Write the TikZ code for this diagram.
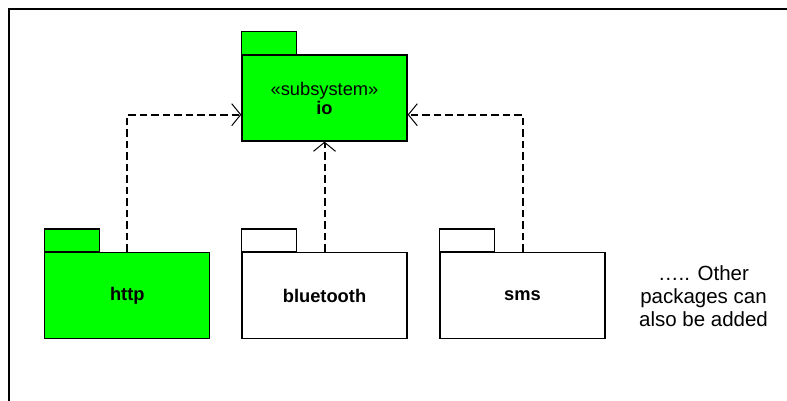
\documentclass[tikz,border=0pt]{standalone}
\usepackage{fontspec}
\setmainfont{Liberation Sans}
\usetikzlibrary{arrows.meta}
\definecolor{pkggreen}{HTML}{00FF00}
\tikzset{
  pkg/.style={draw=black, line width=1.3pt, minimum width=165pt, minimum height=86pt,
    inner sep=0pt, align=center, font=\fontsize{18.3}{19}\selectfont\bfseries},
  pkgtab/.style={draw=black, line width=1.3pt},
  dep/.style={draw=black, line width=2pt, dash pattern=on 7.5pt off 4pt,
    -{Straight Barb[length=9pt,width=22pt,line width=1pt]}},
  greenfill/.style={fill=pkggreen},
}
\begin{document}
\begin{tikzpicture}[x=1pt, y=-1pt]
  \useasboundingbox (0,0) rectangle (787,400);
  \begin{scope}
    \clip (0,0) rectangle (787,400);
    % open frame along top and left
    \draw[line width=2pt] (8.5,420) -- (8.5,8.5) -- (820,8.5);
  \end{scope}

  % package bodies
  \node[pkg, greenfill] (io) at (324.5,98)
    {{\mdseries «subsystem»}\\io};
  \node[pkg, greenfill] (http) at (127.3,295.5) {http};
  \node[pkg] (bluetooth) at (324.5,295.5) {bluetooth};
  \node[pkg] (sms) at (522.5,295.5) {sms};

  % package tabs
  \foreach \p/\f in {io/pkggreen, http/pkggreen, bluetooth/white, sms/white}{
    \draw[pkgtab, fill=\f] (\p.north west) rectangle ++(55,-23);
  }

  % dependencies
  \draw[dep] (http.north) |- ([yshift=-16.7pt]io.west);
  \draw[dep] (bluetooth.north) -- (io.south);
  \draw[dep] (sms.north) |- ([yshift=-16.7pt]io.east);

  % note
  \node[align=center, font=\fontsize{20.5}{23}\selectfont, inner sep=0pt] (note) at (703.5,296)
    {….. Other\\packages can\\also be added};
\end{tikzpicture}
\end{document}
